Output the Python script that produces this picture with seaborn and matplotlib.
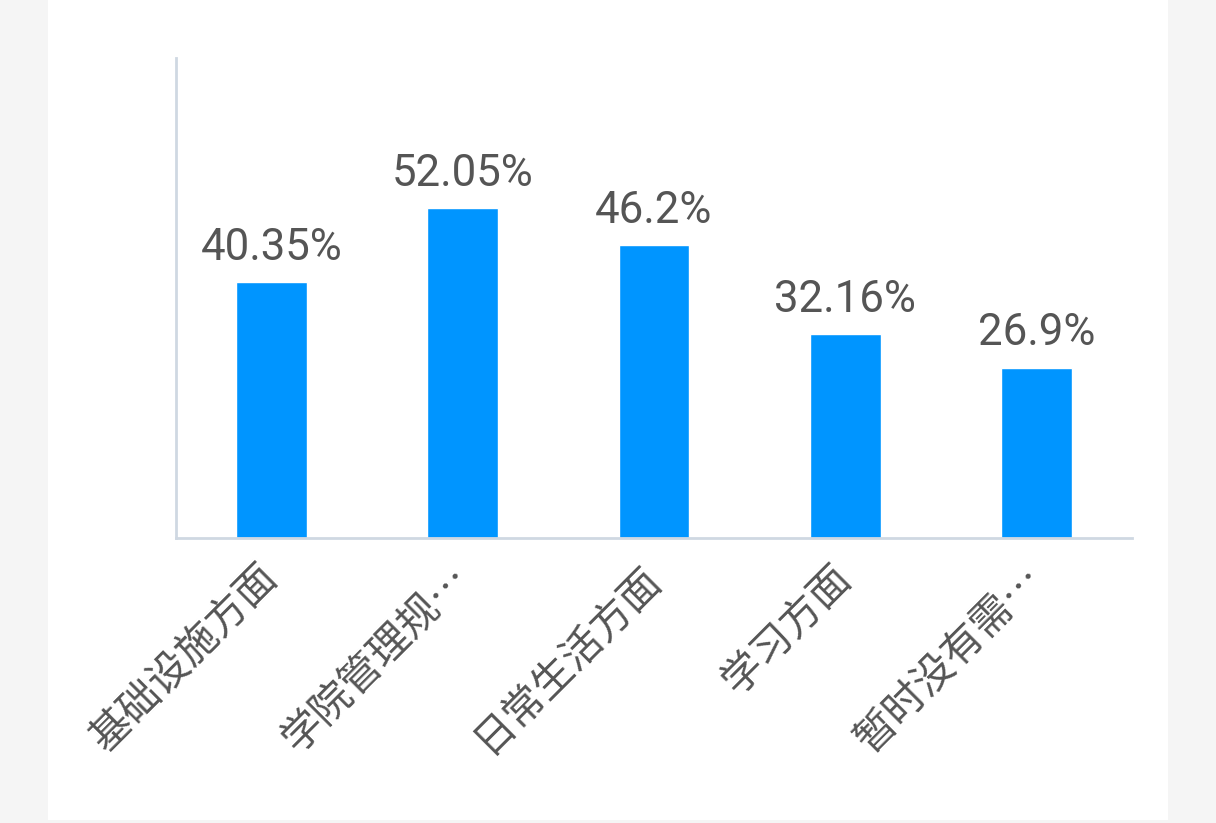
import matplotlib
matplotlib.use('Agg')
import matplotlib.pyplot as plt
from matplotlib.patches import Rectangle
import seaborn as sns
import pandas as pd

categories = ['基础设施方面', '学院管理规…', '日常生活方面', '学习方面', '暂时没有需…']
values = [40.35, 52.05, 46.2, 32.16, 26.9]
value_labels = ['40.35%', '52.05%', '46.2%', '32.16%', '26.9%']

sns.set_theme(style='white')
plt.rcParams['font.family'] = ['Noto Sans CJK SC', 'DejaVu Sans']

df = pd.DataFrame({'cat': categories, 'val': values})

fig = plt.figure(figsize=(12.16, 8.23), dpi=100, facecolor='#f5f5f5')
# white card in the middle
fig.patches.append(Rectangle((48 / 1216, 0.004), 1120 / 1216, 0.996,
                             transform=fig.transFigure, facecolor='white',
                             edgecolor='none', zorder=-10))
ax = fig.add_axes([176 / 1216, 1 - 538 / 823, 956 / 1216, 480 / 823])
ax.set_zorder(5)
ax.set_facecolor('none')

sns.barplot(data=df, x='cat', y='val', color='#0095ff', saturation=1,
            width=0.37, ax=ax)

ax.set_ylim(0, 75.8)
ax.set_xlim(-0.5, 4.5)
ax.set_yticks([])
ax.set_xlabel('')
ax.set_ylabel('')

for i, (v, lab) in enumerate(zip(values, value_labels)):
    ax.text(i, v + 3.6, lab, ha='center', va='baseline', fontsize=31.5,
            color='#555555', family=['Roboto', 'DejaVu Sans'])

ax.tick_params(axis='x', length=0, pad=24)
for t in ax.get_xticklabels():
    t.set_rotation(45)
    t.set_ha('right')
    t.set_va('center')
    t.set_rotation_mode('anchor')
    t.set_fontsize(29.5)
    t.set_color('#555555')

for s in ['top', 'right']:
    ax.spines[s].set_visible(False)
for s in ['left', 'bottom']:
    ax.spines[s].set_color('#cfd8e2')
    ax.spines[s].set_linewidth(2)

fig.savefig('out.png', dpi=100, facecolor=fig.get_facecolor())
